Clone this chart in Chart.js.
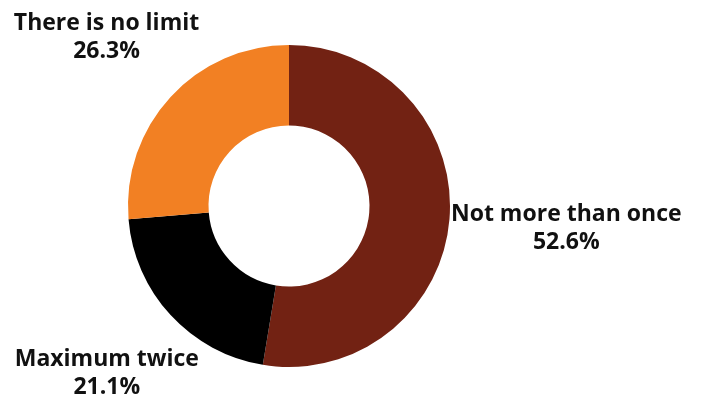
<!DOCTYPE html>
<html>
<head>
<meta charset="utf-8">
<script src="https://cdn.jsdelivr.net/npm/chart.js@4"></script>
<style>
  html, body { margin: 0; padding: 0; background: #fff; }
  #wrap { width: 701px; height: 394px; }
</style>
</head>
<body>
<div id="wrap"><canvas id="grafico"></canvas></div>
<script>
// Datos
const categorias = ['Not more than once', 'Maximum twice', 'There is no limit'];
const valores = [52.6, 21.1, 26.3];
const colores = ['#722213', '#000000', '#F28023'];

// Etiquetas fuera del anillo, sobre el ángulo medio de cada arco
const etiquetasFuera = {
    id: 'etiquetasFuera',
    afterDatasetsDraw(chart) {
        const ctx = chart.ctx;
        const meta = chart.getDatasetMeta(0);
        ctx.save();
        ctx.font = 'bold 23px "Open Sans", sans-serif';
        ctx.fillStyle = '#111';
        ctx.textAlign = 'center';
        ctx.textBaseline = 'middle';
        const lh = 28;
        meta.data.forEach((arc, i) => {
            const p = arc.getProps(['x', 'y', 'startAngle', 'endAngle', 'outerRadius'], true);
            const mid = (p.startAngle + p.endAngle) / 2;
            const l1 = categorias[i];
            const l2 = valores[i].toFixed(1) + '%';
            const hw = Math.max(ctx.measureText(l1).width, ctx.measureText(l2).width) / 2;
            const hh = lh;
            const c = Math.cos(mid), s = Math.sin(mid);
            const d = p.outerRadius + hw * Math.abs(c) + hh * Math.abs(s);
            const cx = p.x + d * c;
            const cy = p.y + d * s;
            ctx.fillText(l1, cx, cy - lh / 2);
            ctx.fillText(l2, cx, cy + lh / 2);
        });
        ctx.restore();
    }
};

new Chart(document.getElementById('grafico'), {
    type: 'doughnut',
    data: {
        labels: categorias,
        datasets: [{
            data: valores,
            backgroundColor: colores,
            borderWidth: 0
        }]
    },
    options: {
        responsive: true,
        maintainAspectRatio: false,
        animation: false,
        cutout: '50%',
        layout: { padding: { left: 128, right: 251, top: 45, bottom: 27 } },
        plugins: {
            legend: { display: false },
            tooltip: { enabled: false }
        }
    },
    plugins: [etiquetasFuera]
});
</script>
</body>
</html>
